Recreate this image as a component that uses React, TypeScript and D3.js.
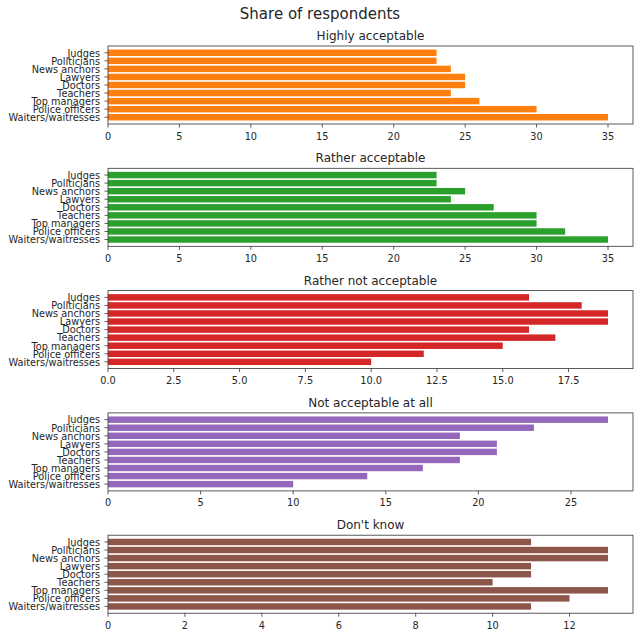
import React from "react";
import * as d3 from "d3";

const categories = [
  "Waiters/waitresses",
  "Police officers",
  "Top managers",
  "Teachers",
  "Doctors",
  "Lawyers",
  "News anchors",
  "Politicians",
  "Judges",
];

// values in order of categories (bottom to top)
const highlyAcceptable = [35, 30, 26, 24, 25, 25, 24, 23, 23];
const ratherAcceptable = [35, 32, 30, 30, 27, 24, 25, 23, 23];
const ratherNotAcceptable = [10, 12, 15, 17, 16, 19, 19, 18, 16];
const notAcceptableAtAll = [10, 14, 17, 19, 21, 21, 19, 23, 27];
const dontKnow = [11, 12, 13, 10, 11, 11, 13, 13, 11];

const ticks1 = [0, 5, 10, 15, 20, 25, 30, 35];
const ticks2 = [0, 5, 10, 15, 20, 25, 30, 35];
const ticks3 = [0, 2.5, 5, 7.5, 10, 12.5, 15, 17.5];
const ticks4 = [0, 5, 10, 15, 20, 25];
const ticks5 = [0, 2, 4, 6, 8, 10, 12];

const panelTitles = [
  "Highly acceptable",
  "Rather acceptable",
  "Rather not acceptable",
  "Not acceptable at all",
  "Don't know",
];
const panelColors = ["#ff7f0e", "#2ca02c", "#d62728", "#9467bd", "#8c564b"];
const panelValues = [
  highlyAcceptable,
  ratherAcceptable,
  ratherNotAcceptable,
  notAcceptableAtAll,
  dontKnow,
];
const panelTicks = [ticks1, ticks2, ticks3, ticks4, ticks5];

const W = 640;
const H = 640;
const left = 108;
const right = 633;
const top0 = 46;
const step = 122.3;
const ph = 78;
const font = "DejaVu Sans, sans-serif";
const textColor = "#262626";
const sx = 0.93;

function Label({
  x,
  y,
  anchor,
  size,
  children,
  dy,
}: {
  x: number;
  y: number;
  anchor: string;
  size: number;
  children: React.ReactNode;
  dy?: string;
}) {
  return (
    <text
      transform={`translate(${x},${y}) scale(${sx},1)`}
      dy={dy}
      textAnchor={anchor}
      fontSize={size}
      fontFamily={font}
      fill={textColor}
    >
      {children}
    </text>
  );
}

function Panel({ idx }: { idx: number }) {
  const values = panelValues[idx];
  const ticks = panelTicks[idx];
  const top = top0 + idx * step;
  const bottom = top + ph;
  const maxV = d3.max(values) as number;
  const x = d3.scaleLinear().domain([0, maxV * 1.05]).range([left, right]);
  const y = d3.scaleLinear().domain([-0.84, 8.84]).range([bottom, top]);
  const hasFrac = ticks.some((v) => !Number.isInteger(v));
  const fmt = (t: number) => (hasFrac ? t.toFixed(1) : String(t));
  return (
    <g>
      <text
        x={(left + right) / 2}
        y={top - 6}
        textAnchor="middle"
        fontSize={12}
        fontFamily={font}
        fill={textColor}
      >
        {panelTitles[idx]}
      </text>
      {values.map((v, i) => (
        <rect
          key={i}
          x={x(0)}
          y={y(i + 0.4)}
          width={x(v) - x(0)}
          height={y(i - 0.4) - y(i + 0.4)}
          fill={panelColors[idx]}
        />
      ))}
      <rect
        x={left}
        y={top}
        width={right - left}
        height={ph}
        fill="none"
        stroke="#333"
        strokeWidth={0.8}
      />
      {categories.map((c, i) => (
        <g key={c}>
          <line x1={left - 3.5} x2={left} y1={y(i)} y2={y(i)} stroke="#333" strokeWidth={0.8} />
          <Label x={left - 8} y={y(i)} dy="0.36em" anchor="end" size={10.5}>
            {c}
          </Label>
        </g>
      ))}
      {ticks.map((t) => (
        <g key={t}>
          <line x1={x(t)} x2={x(t)} y1={bottom} y2={bottom + 3.5} stroke="#333" strokeWidth={0.8} />
          <Label x={x(t)} y={bottom + 15.5} anchor="middle" size={10.5}>
            {fmt(t)}
          </Label>
        </g>
      ))}
    </g>
  );
}

export default function App() {
  return (
    <svg
      width={W}
      height={H}
      style={{ position: "absolute", left: 0, top: 0, background: "#fff" }}
    >
      <rect x={0} y={0} width={W} height={H} fill="#fff" />
      <text
        x={W / 2}
        y={19}
        textAnchor="middle"
        fontSize={15}
        fontFamily={font}
        fill={textColor}
      >
        Share of respondents
      </text>
      {panelValues.map((_, i) => (
        <Panel key={i} idx={i} />
      ))}
    </svg>
  );
}
